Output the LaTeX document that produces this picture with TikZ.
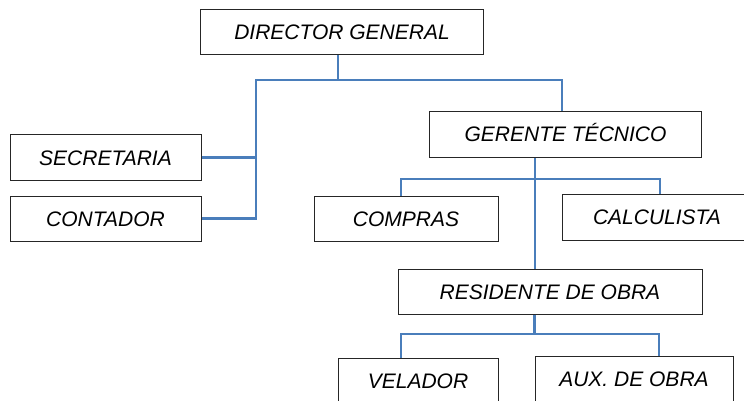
\documentclass[tikz,border=0pt]{standalone}
\usepackage{fontspec}
\setmainfont{Liberation Sans}
\usepackage{tikz}
\definecolor{linkblue}{RGB}{74,126,187}
\begin{document}
\begin{tikzpicture}[x=1pt,y=-1pt,
  puesto/.style={draw=black!85,line width=1pt,fill=white,inner sep=0pt,
    text height=15pt,text depth=0pt,minimum height=45pt,
    font=\fontsize{21}{25}\selectfont\itshape},
  link/.style={draw=linkblue,line width=2.6pt}]
       \useasboundingbox(0,0)rectangle(744,401);
       \node[puesto,minimum width=283pt](dir)at(342,32.5){DIRECTOR GENERAL};
       \node[puesto,minimum width=272pt](ger)at(565.5,134.5){GERENTE TÉCNICO};
       \node[puesto,minimum width=191pt](sec)at(105.5,157.5){SECRETARIA};
       \node[puesto,minimum width=191pt](con)at(105.5,218.5){CONTADOR};
       \node[puesto,minimum width=184pt](com)at(406,218.5){COMPRAS};
       \node[puesto,minimum width=190pt,minimum height=46pt](cal)at(657,217){CALCULISTA};
       \node[puesto,minimum width=304pt](res)at(550,291.5){RESIDENTE DE OBRA};
       \node[puesto,minimum width=160pt](vel)at(418,380.5){VELADOR};
       \node[puesto,minimum width=198pt](aux)at(634,378.5){AUX. DE OBRA};
       \coordinate(dj)at(338,80);
       \coordinate(lbus)at(256,80);
       \coordinate(rbus)at(562,80);
       \coordinate(gj)at(535,179);
       \coordinate(cl)at(401,179);
       \coordinate(cr)at(660,179);
       \coordinate(rj)at(534.5,334);
       \coordinate(vl)at(401,334);
       \coordinate(vr)at(659,334);
       \draw[link,line width=1.6pt](dir.south-|dj)--(dj);
       \draw[link](con.east)-|(lbus)--(rbus)--(rbus|-ger.north);
       \draw[link](sec.east)--(sec.east-|lbus);
       \draw[link](ger.south-|gj)--(res.north-|gj);
       \draw[link](com.north-|cl)--(cl)--(cr)--(cal.north-|cr);
       \draw[link](res.south-|rj)--(rj);
       \draw[link](vel.north-|vl)--(vl)--(vr)--(aux.north-|vr);
      \end{tikzpicture}
\end{document}
